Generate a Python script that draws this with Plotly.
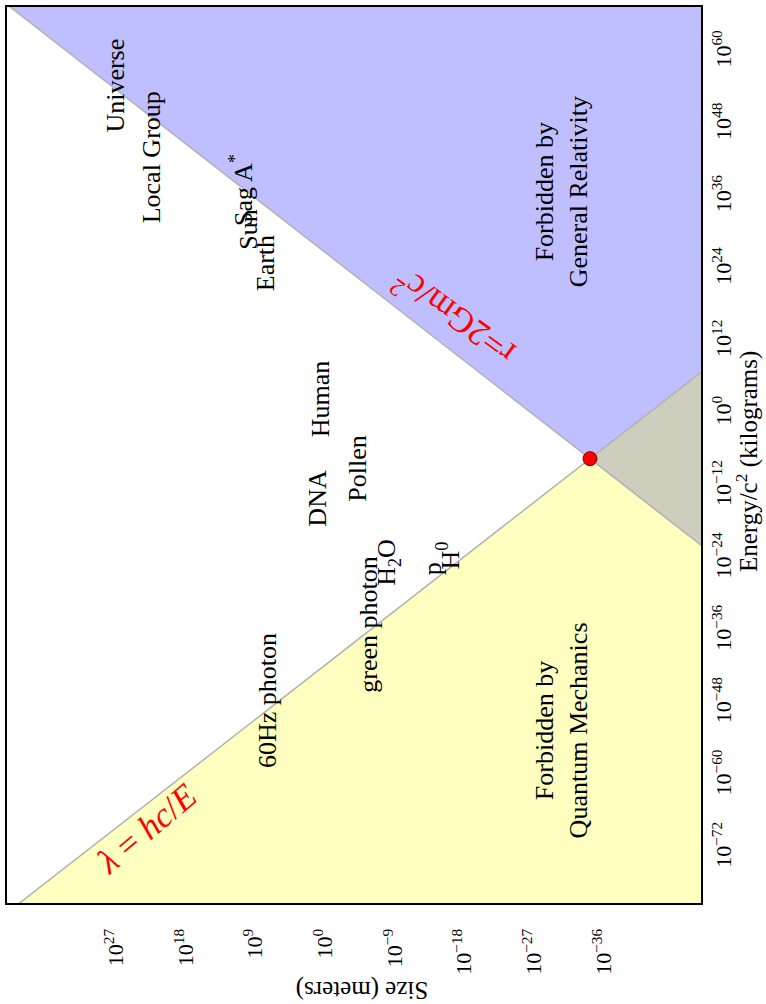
import numpy as np
import plotly.graph_objects as go

# physical constants (SI)
G = 6.674e-11
C = 2.998e8
H = 6.626e-34

# axis ranges (log10)
size_range_log = [41.08, -48.58]   # reversed: large sizes on the left
mass_range_log = [-81.1, 67.5]

size_ticks = [27, 18, 9, 0, -9, -18, -27, -36]
mass_ticks = [-72, -60, -48, -36, -24, -12, 0, 12, 24, 36, 48, 60]

# objects: log10 size (m), log10 mass (kg)
object_names = ["Universe", "Local Group", "Sag A<sup>*</sup>", "Sun", "Earth",
                "Human", "Pollen", "DNA", "green photon", "60Hz photon",
                "H<sub>2</sub>O", "p", "H<sup>0</sup>"]
object_log_size = [27.1, 22.4, 10.8, 9.9, 7.75, 0.65, -4.2, 1.0, -5.6, 7.4, -8.2, -14.0, -16.0]
object_log_mass = [54.5, 42.5, 37.2, 30.6, 25.0, 2.6, -9.0, -14.0, -34.9, -47.5, -24.6, -25.7, -23.5]

region_names = ["Forbidden by<br>General Relativity", "Forbidden by<br>Quantum Mechanics"]
region_log_size = [-30.6, -30.6]
region_log_mass = [36.9, -52.5]

FONT = "Liberation Serif"


def tick_text(e):
    return "10<sup>" + (str(e) if e >= 0 else "\u2212" + str(-e)) + "</sup>"


def m_schw(r):
    return r * C ** 2 / (2 * G)


def m_compton(r):
    return H / (r * C)


r_p = np.sqrt(2 * G * H / C ** 3)
m_p = m_schw(r_p)

xl = 10 ** size_range_log[0]
xr = 10 ** size_range_log[1]
yb = 10 ** mass_range_log[0]
yt = 10 ** mass_range_log[1]

fig = go.Figure()

# blue: forbidden by GR
fig.add_trace(go.Scatter(
    x=[xl, r_p, xr, xr, xl], y=[m_schw(xl), m_p, m_compton(xr), yt * 10, yt * 10],
    fill="toself", fillcolor="rgb(191,191,255)", line=dict(width=0),
    mode="lines", hoverinfo="skip", showlegend=False))
# yellow: forbidden by QM
fig.add_trace(go.Scatter(
    x=[xl, r_p, xr, xr, xl], y=[m_compton(xl), m_p, m_schw(xr), yb / 10, yb / 10],
    fill="toself", fillcolor="rgb(255,255,192)", line=dict(width=0),
    mode="lines", hoverinfo="skip", showlegend=False))
# gray: both
fig.add_trace(go.Scatter(
    x=[r_p, xr, xr, r_p], y=[m_p, m_compton(xr), m_schw(xr), m_p],
    fill="toself", fillcolor="rgb(206,206,190)", line=dict(width=0),
    mode="lines", hoverinfo="skip", showlegend=False))

# boundary lines
r_line = np.array([xl, xr])
fig.add_trace(go.Scatter(x=r_line, y=m_schw(r_line), mode="lines",
                         line=dict(color="rgb(178,178,178)", width=1.5),
                         hoverinfo="skip", showlegend=False))
fig.add_trace(go.Scatter(x=r_line, y=m_compton(r_line), mode="lines",
                         line=dict(color="rgb(178,178,178)", width=1.5),
                         hoverinfo="skip", showlegend=False))

# Planck point
fig.add_trace(go.Scatter(x=[r_p], y=[m_p], mode="markers",
                         marker=dict(size=14, color="red", line=dict(color="rgb(120,0,0)", width=1)),
                         hoverinfo="skip", showlegend=False))

annotations = []
for name, lx, ly in zip(object_names, object_log_size, object_log_mass):
    annotations.append(dict(x=lx, y=ly, xref="x", yref="y", text=name, showarrow=False,
                            textangle=-90, font=dict(family=FONT, size=26, color="black")))
for name, lx, ly in zip(region_names, region_log_size, region_log_mass):
    annotations.append(dict(x=lx, y=ly, xref="x", yref="y", text=name, showarrow=False,
                            textangle=-90, font=dict(family=FONT, size=26, color="black")))

annotations.append(dict(x=-16.5, y=15.9, xref="x", yref="y", text="r=2Gm/c<sup>2</sup>",
                        showarrow=False, textangle=-144,
                        font=dict(family=FONT, size=35, color="red")))
annotations.append(dict(x=23.0, y=-68.8, xref="x", yref="y",
                        text="<i>\u03bb</i> = <i>hc</i>/<i>E</i>",
                        showarrow=False, textangle=-40,
                        font=dict(family=FONT, size=35, color="red")))

annotations.append(dict(x=0.511, y=-0.0965, xref="paper", yref="paper", text="Size (meters)",
                        showarrow=False, textangle=180, xanchor="center", yanchor="middle",
                        font=dict(family=FONT, size=25, color="black")))
annotations.append(dict(x=1.066, y=0.493, xref="paper", yref="paper",
                        text="Energy/c<sup>2</sup> (kilograms)",
                        showarrow=False, textangle=-90, xanchor="center", yanchor="middle",
                        font=dict(family=FONT, size=25, color="black")))

fig.update_layout(
    width=766, height=1004,
    margin=dict(l=7, r=65, t=5, b=101),
    paper_bgcolor="white", plot_bgcolor="white",
    annotations=annotations,
    xaxis=dict(type="log", range=size_range_log, showgrid=False, zeroline=False,
               tickvals=[10.0 ** e for e in size_ticks], ticktext=[tick_text(e) for e in size_ticks],
               tickangle=-90, ticks="", ticklabelstandoff=15,
               tickfont=dict(family=FONT, size=22, color="black"),
               showline=True, linecolor="black", linewidth=2, mirror=True),
    yaxis=dict(type="log", range=mass_range_log, side="right", showgrid=False, zeroline=False,
               tickvals=[10.0 ** e for e in mass_ticks], ticktext=[tick_text(e) for e in mass_ticks],
               tickangle=-90, ticks="", ticklabelstandoff=2,
               tickfont=dict(family=FONT, size=22, color="black"),
               showline=True, linecolor="black", linewidth=2, mirror=True),
)

fig.write_html("out.html")
